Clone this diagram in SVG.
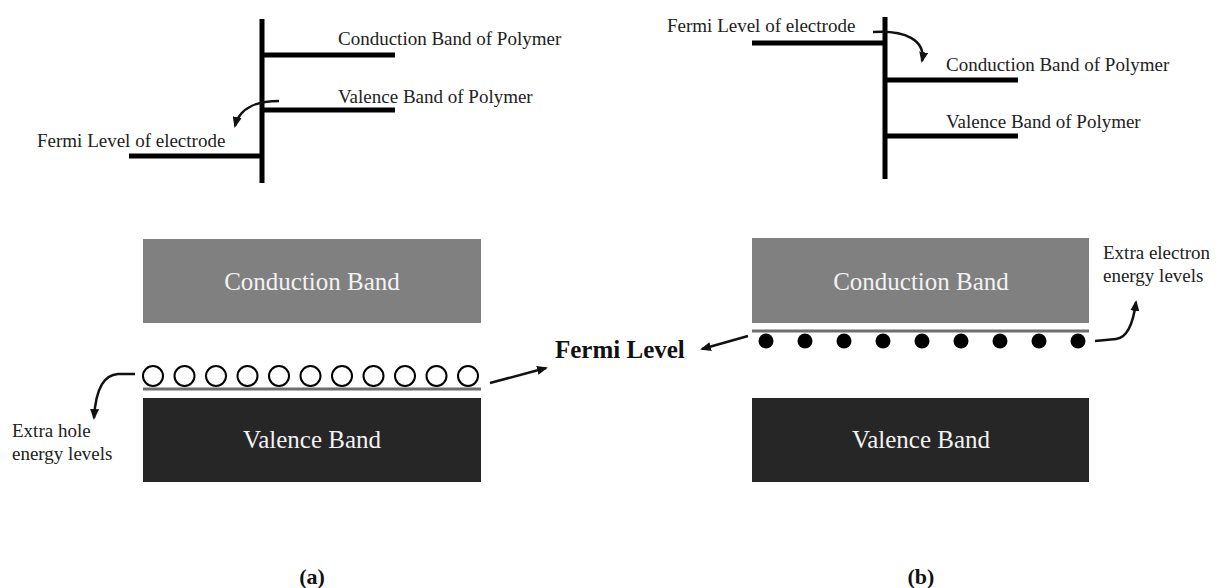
<svg xmlns="http://www.w3.org/2000/svg" width="1226" height="588" viewBox="0 0 1226 588">
<defs>
<marker id="ah" markerWidth="11" markerHeight="9" refX="9" refY="4.5" orient="auto" markerUnits="userSpaceOnUse">
<path d="M0,0 L11,4.5 L0,9 z" fill="#111"/>
</marker>
<style>
.t{font-family:"Liberation Serif","Times New Roman",serif;font-size:19px;fill:#222}
.bt{font-family:"Liberation Serif","Times New Roman",serif;font-size:25px;fill:#f2f2f2;text-anchor:middle}
.bold{font-family:"Liberation Serif","Times New Roman",serif;font-weight:bold;fill:#111}
.bar{stroke:#000;stroke-width:5;fill:none}
.arr{stroke:#111;stroke-width:2.5;fill:none;marker-end:url(#ah)}
.cb{fill:#808080}
.vb{fill:#262626}
.lvl{stroke:#6e6e6e;stroke-width:3}
.hole{fill:#fff;stroke:#000;stroke-width:2}
.el{fill:#000}
</style>
</defs>
<rect width="1226" height="588" fill="#fff"/>

<g id="energy-a">
<line class="bar" x1="262" y1="19" x2="262" y2="183"/>
<line class="bar" x1="262" y1="55" x2="395" y2="55"/>
<line class="bar" x1="262" y1="110" x2="395" y2="110"/>
<line class="bar" x1="129" y1="156" x2="262" y2="156"/>
<text class="t" x="338" y="45">Conduction Band of Polymer</text>
<text class="t" x="338" y="103">Valence Band of Polymer</text>
<text class="t" x="37" y="147">Fermi Level of electrode</text>
</g>

<g id="energy-b">
<line class="bar" x1="885" y1="17" x2="885" y2="179"/>
<line class="bar" x1="752" y1="43" x2="885" y2="43"/>
<line class="bar" x1="885" y1="80" x2="1018" y2="80"/>
<line class="bar" x1="885" y1="136" x2="1018" y2="136"/>
<text class="t" x="667" y="32">Fermi Level of electrode</text>
<text class="t" x="946" y="71">Conduction Band of Polymer</text>
<text class="t" x="946" y="128">Valence Band of Polymer</text>
</g>

<g id="band-a">
<rect class="cb" x="143" y="239" width="338" height="84"/>
<text class="bt" x="312" y="290">Conduction Band</text>
<g id="holes">
<circle class="hole" cx="153" cy="376" r="10"/>
<circle class="hole" cx="184.5" cy="376" r="10"/>
<circle class="hole" cx="216" cy="376" r="10"/>
<circle class="hole" cx="247.5" cy="376" r="10"/>
<circle class="hole" cx="279" cy="376" r="10"/>
<circle class="hole" cx="310.5" cy="376" r="10"/>
<circle class="hole" cx="342" cy="376" r="10"/>
<circle class="hole" cx="373.5" cy="376" r="10"/>
<circle class="hole" cx="405" cy="376" r="10"/>
<circle class="hole" cx="436.5" cy="376" r="10"/>
<circle class="hole" cx="468" cy="376" r="10"/>
</g>
<line class="lvl" x1="143" y1="389" x2="481" y2="389"/>
<rect class="vb" x="143" y="398" width="338" height="84"/>
<text class="bt" x="312" y="448">Valence Band</text>
<text class="t" x="12" y="437">Extra hole</text>
<text class="t" x="12" y="460">energy levels</text>
</g>

<g id="band-b">
<rect class="cb" x="752" y="238" width="337" height="85"/>
<text class="bt" x="921" y="290">Conduction Band</text>
<line class="lvl" x1="752" y1="331" x2="1089" y2="331"/>
<g id="electrons">
<circle class="el" cx="766" cy="341" r="7.5"/>
<circle class="el" cx="805" cy="341" r="7.5"/>
<circle class="el" cx="844" cy="341" r="7.5"/>
<circle class="el" cx="883" cy="341" r="7.5"/>
<circle class="el" cx="922" cy="341" r="7.5"/>
<circle class="el" cx="961" cy="341" r="7.5"/>
<circle class="el" cx="1000" cy="341" r="7.5"/>
<circle class="el" cx="1039" cy="341" r="7.5"/>
<circle class="el" cx="1078" cy="341" r="7.5"/>
</g>
<rect class="vb" x="752" y="398" width="337" height="84"/>
<text class="bt" x="921" y="448">Valence Band</text>
<text class="t" x="1103" y="259">Extra electron</text>
<text class="t" x="1103" y="282">energy levels</text>
</g>

<g id="fermi">
<text class="bold" x="555" y="358" font-size="25">Fermi Level</text>
</g>

<g id="labels">
<text class="bold" x="312" y="584" font-size="22" text-anchor="middle">(a)</text>
<text class="bold" x="921" y="584" font-size="22" text-anchor="middle">(b)</text>
</g>

<g id="connectors">
<path class="arr" d="M279,101 C258,101 240,106 235,126"/>
<path class="arr" d="M873,32 C905,30 926,40 922,61"/>
<path class="arr" d="M135,374 L118,374 C105,375 96,386 94,418"/>
<path class="arr" d="M1095,341 L1116,339 C1126,338 1133,325 1136,302"/>
<path class="arr" d="M490,383 L546,368"/>
<path class="arr" d="M748,336 L702,349"/>
</g>
</svg>
